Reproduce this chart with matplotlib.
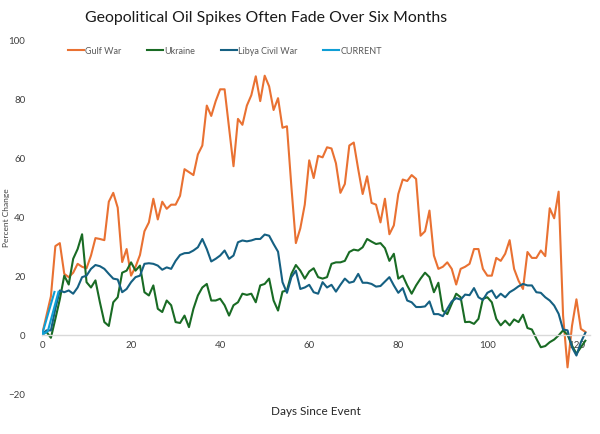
import numpy as np
import matplotlib.pyplot as plt

days = list(range(123))

gulf_war = [0, 6.5, 13, 30, 31, 20.6, 19.5, 21, 24, 23,
            22.5, 26.8, 32.7, 32.4, 32, 45, 48, 43, 24.6, 29,
            20, 23, 27, 35, 38, 46, 39, 45, 42.6, 44,
            44, 47, 56, 55, 54, 61, 64, 77.5, 74, 79,
            83, 83, 70, 57, 73, 71, 77.5, 81, 87.4, 79,
            87.6, 84, 76, 80, 70, 70.5, 50, 31, 36, 44,
            59, 53, 60.5, 60, 63.4, 63, 58, 48, 51, 64,
            65, 56, 47.6, 53.6, 44.6, 44, 38, 46, 34, 37,
            47.6, 52.5, 52, 54, 52.7, 33.5, 35, 42, 26.8, 22.3,
            23, 24.5, 22.3, 17, 22.3, 23, 24, 29, 29, 22.3,
            20, 20, 26, 25, 27.4, 32, 22.3, 18.3, 15.5, 28,
            26, 26, 28.5, 26.6, 42.8, 39.4, 48.4, 6.5, -11, 3,
            12, 2, 1]

ukraine = [0, 1, -1, 5.4, 12, 20, 17, 25.7, 29, 34,
           17.8, 16, 18.4, 11, 4.3, 3, 11, 12.7, 21, 21.7,
           24.5, 21.7, 23.4, 14.4, 13.3, 16.7, 8.8, 7.7, 11.6, 10,
           4.3, 4, 6.5, 2.6, 8.8, 13.3, 16, 17.2, 11.6, 11.6,
           12.2, 10, 6.5, 10, 11, 13.9, 13.5, 13.9, 11, 16.7,
           17.2, 19, 11.6, 8.2, 14.6, 15, 20.6, 23.6, 21.7, 19,
           21.4, 22.5, 19.5, 19, 19.5, 24, 24.5, 24.5, 25, 28,
           28.8, 28.5, 29.6, 32.4, 31.5, 30.7, 31, 29.3, 25, 27.4,
           19, 20, 16.7, 13.9, 16.7, 19, 21, 19.5, 14.4, 17.6,
           8.2, 7, 10.5, 13.9, 12.7, 4.3, 4.4, 3.7, 5.4, 12.2,
           12.7, 11, 5.4, 3.2, 4.8, 3.2, 5.2, 4.3, 6.8, 2.3,
           1.8, -1.3, -4.2, -3.8, -2.5, -1.6, -0.2, 1.5, 0, -3.6,
           -6.4, -4.2, -2]

libya = [0, 1.5, 1.5, 8.8, 15, 14.4, 15, 13.9, 16, 19.5,
         20, 22.3, 23.6, 23.2, 22.3, 20.6, 19, 18.7, 14.4, 15.5,
         17.8, 19.5, 20, 24, 24.2, 24, 23.4, 22, 22.8, 22.3,
         25, 27, 27.6, 27.7, 28.5, 29.6, 32.4, 29, 24.8, 25.7,
         26.8, 28.5, 25.7, 26.8, 31.3, 31.9, 31.6, 31.9, 32.4, 32.4,
         33.9, 33.5, 30.7, 28.1, 17.8, 14.2, 19.5, 21.7, 15.5, 16,
         16.9, 14.4, 13.9, 17.8, 16, 16.9, 14.6, 16.9, 19, 17.6,
         18, 20.6, 17.6, 17.6, 17.2, 16.3, 16.5, 18, 19.5, 16.7,
         14.2, 15.8, 11.6, 11, 9.4, 9.4, 9.6, 11.3, 7, 7,
         6.3, 8.8, 11.3, 12.4, 11.9, 13.6, 13.4, 15.8, 12.7, 11.8,
         14.2, 15, 12.4, 13.9, 12.7, 14.4, 15.3, 16.4, 17.2, 16.7,
         16.7, 14.4, 14.2, 12.7, 11.6, 9.9, 7.1, 1.8, 1.5, -4.2,
         -7, -2.5, 0.7]

current_days = [2.8, 0, 1.3, 3.7]
current = [14.5, 0, 1.2, 14.5]

plt.rcParams['font.family'] = ['Lato', 'DejaVu Sans']

fig = plt.figure(figsize=(6, 4.35), dpi=100)
ax = fig.add_axes([0.07, 0.092, 0.913, 0.816])

ax.plot(days, gulf_war, color='#E97132', lw=1.5, label='Gulf War')
ax.plot(days, ukraine, color='#196B24', lw=1.5, label='Ukraine')
ax.plot(days, libya, color='#156082', lw=1.5, label='Libya Civil War')
ax.plot(current_days, current, color='#0F9ED5', lw=1.5, label='CURRENT')

ax.set_xlim(0, 123)
ax.set_ylim(-20, 100)
ax.set_xticks(range(0, 121, 20))
ax.set_yticks(range(-20, 101, 20))
ax.tick_params(length=0, labelsize=7, colors='#404040')
ax.tick_params(axis='y', pad=12)
ax.tick_params(axis='x', pad=4)

for s in ['top', 'right', 'left']:
    ax.spines[s].set_visible(False)
ax.spines['bottom'].set_position(('data', 0))
ax.spines['bottom'].set_color('#D9D9D9')
ax.spines['bottom'].set_linewidth(1)

ax.set_xlabel('Days Since Event', fontsize=8.5, color='#262626')
ax.xaxis.set_label_coords(0.5, -0.03)
ax.set_ylabel('Percent Change', fontsize=6, color='#404040')
ax.yaxis.set_label_coords(-0.058, 0.5)

fig.suptitle('Geopolitical Oil Spikes Often Fade Over Six Months',
             x=0.443, y=0.975, fontsize=11.4, color='#1a1a1a')

ax.legend(loc='center', bbox_to_anchor=(225 / 600, 1 - 52 / 435), bbox_transform=fig.transFigure,
          ncol=4, frameon=False, fontsize=6.5, labelcolor='#595959',
          handlelength=1.7, handletextpad=0.15, columnspacing=2.9)

plt.savefig('out.png', dpi=100)
